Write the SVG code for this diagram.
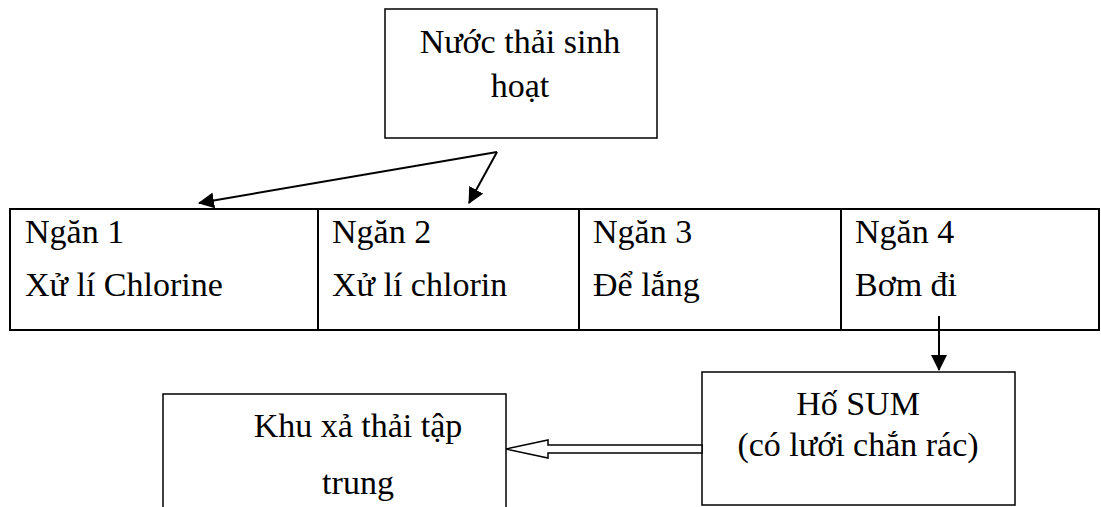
<svg xmlns="http://www.w3.org/2000/svg" width="1101" height="507" viewBox="0 0 1101 507">
  <style>
    .box { fill: #fff; stroke: #000; stroke-width: 1.5; }
    .row { fill: #fff; stroke: #000; stroke-width: 2; }
    .lbl { font-family: "Liberation Serif", "Times New Roman", serif; font-size: 34px; fill: #000; }
    .mid { text-anchor: middle; }
    .wire { fill: none; stroke: #000; stroke-width: 2; }
  </style>
  <defs>
    <marker id="head" markerWidth="8" markerHeight="8" refX="7.5" refY="4" orient="auto" markerUnits="strokeWidth">
      <path d="M0,0 L8,4 L0,8 Z" fill="#000"/>
    </marker>
  </defs>

  <!-- Source: domestic wastewater -->
  <g id="nuoc-thai">
    <rect class="box" x="385" y="9" width="272" height="129"/>
    <text class="lbl mid" x="520" y="53">Nước thải sinh</text>
    <text class="lbl mid" x="520" y="97">hoạt</text>
  </g>

  <!-- Four-compartment tank -->
  <g id="be-4-ngan">
    <rect class="row" x="10" y="209" width="1089" height="121"/>
    <line class="row" x1="318" y1="209" x2="318" y2="330"/>
    <line class="row" x1="579" y1="209" x2="579" y2="330"/>
    <line class="row" x1="841" y1="209" x2="841" y2="330"/>
  </g>
  <g id="ngan-1">
    <text class="lbl" x="25" y="243">Ngăn 1</text>
    <text class="lbl" x="25" y="296">Xử lí Chlorine</text>
  </g>
  <g id="ngan-2">
    <text class="lbl" x="332" y="243">Ngăn 2</text>
    <text class="lbl" x="332" y="296">Xử lí chlorin</text>
  </g>
  <g id="ngan-3">
    <text class="lbl" x="593" y="243">Ngăn 3</text>
    <text class="lbl" x="593" y="296">Để lắng</text>
  </g>
  <g id="ngan-4">
    <text class="lbl" x="855" y="243">Ngăn 4</text>
    <text class="lbl" x="855" y="296">Bơm đi</text>
  </g>

  <!-- Sump pit -->
  <g id="ho-sum">
    <rect class="box" x="702" y="372" width="313" height="133"/>
    <text class="lbl mid" x="858" y="415">Hố SUM</text>
    <text class="lbl mid" x="858" y="456">(có lưới chắn rác)</text>
  </g>

  <!-- Central discharge area -->
  <g id="khu-xa-thai">
    <rect class="box" x="163" y="394" width="343" height="120"/>
    <text class="lbl mid" x="358" y="437">Khu xả thải tập</text>
    <text class="lbl mid" x="358" y="494">trung</text>
  </g>

  <!-- Connectors -->
  <g id="connectors">
    <line class="wire" x1="497" y1="152" x2="199" y2="203" marker-end="url(#head)"/>
    <line class="wire" x1="497" y1="152" x2="469" y2="203" marker-end="url(#head)"/>
    <line class="wire" x1="939" y1="316" x2="939" y2="370" marker-end="url(#head)"/>
    <path d="M506,449 L548,440 L548,445 L702,445 L702,453 L548,453 L548,458 Z" fill="#fff" stroke="#000" stroke-width="1.5" stroke-linejoin="miter"/>
  </g>
</svg>
